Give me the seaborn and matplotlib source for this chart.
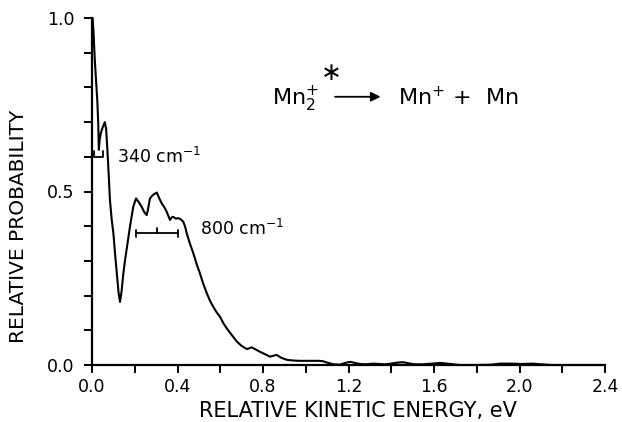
import matplotlib
matplotlib.use("Agg")
import matplotlib.pyplot as plt
import seaborn as sns
import pandas as pd
import numpy as np
from matplotlib.ticker import MultipleLocator

# ---- data ----
energy_ev = [0.003, 0.007, 0.010, 0.013, 0.016, 0.020, 0.025, 0.029, 0.032, 0.036,
             0.042, 0.050, 0.060, 0.066, 0.072, 0.078, 0.084, 0.092, 0.100, 0.108,
             0.116, 0.124, 0.131, 0.138, 0.146, 0.154, 0.166, 0.178, 0.186, 0.193,
             0.206, 0.218, 0.232, 0.245, 0.256, 0.264, 0.271, 0.285, 0.303, 0.315,
             0.326, 0.338, 0.349, 0.357, 0.365, 0.372, 0.380, 0.392, 0.404, 0.415,
             0.427, 0.435, 0.443, 0.458, 0.474, 0.490, 0.505, 0.520, 0.537, 0.552,
             0.567, 0.583, 0.599, 0.615, 0.630, 0.652, 0.677, 0.700, 0.724, 0.735,
             0.747, 0.765, 0.786, 0.810, 0.833, 0.850, 0.864, 0.885, 0.911, 0.940,
             0.973, 1.020, 1.060, 1.080, 1.100, 1.130, 1.160, 1.190, 1.210, 1.230,
             1.254, 1.280, 1.316, 1.340, 1.370, 1.400, 1.430, 1.456, 1.480, 1.510,
             1.550, 1.590, 1.628, 1.660, 1.690, 1.720, 1.800, 1.870, 1.910, 1.960,
             2.010, 2.060, 2.100, 2.150, 2.250, 2.400]
probability = [1.000, 0.960, 0.920, 0.880, 0.850, 0.810, 0.760, 0.700, 0.620, 0.650,
               0.670, 0.685, 0.700, 0.680, 0.620, 0.550, 0.475, 0.420, 0.380, 0.320,
               0.265, 0.210, 0.182, 0.210, 0.260, 0.300, 0.350, 0.400, 0.430, 0.456,
               0.480, 0.470, 0.456, 0.440, 0.432, 0.455, 0.480, 0.490, 0.497, 0.480,
               0.466, 0.455, 0.442, 0.430, 0.418, 0.425, 0.427, 0.422, 0.423, 0.420,
               0.413, 0.400, 0.380, 0.350, 0.322, 0.290, 0.264, 0.235, 0.207, 0.185,
               0.168, 0.152, 0.139, 0.120, 0.106, 0.088, 0.068, 0.055, 0.046, 0.048,
               0.051, 0.045, 0.038, 0.031, 0.024, 0.027, 0.029, 0.021, 0.015, 0.013,
               0.012, 0.012, 0.012, 0.011, 0.007, 0.002, 0.001, 0.007, 0.009, 0.006,
               0.003, 0.002, 0.004, 0.003, 0.002, 0.004, 0.007, 0.008, 0.005, 0.002,
               0.002, 0.004, 0.006, 0.004, 0.002, 0.000, 0.000, 0.001, 0.004, 0.004,
               0.003, 0.004, 0.002, 0.000, 0.000, 0.000]

x_ticks = [0.0, 0.4, 0.8, 1.2, 1.6, 2.0, 2.4]
x_tick_labels = ["0.0", "0.4", "0.8", "1.2", "1.6", "2.0", "2.4"]
y_ticks = [0.0, 0.5, 1.0]
y_tick_labels = ["0.0", "0.5", "1.0"]

# vibrational spacing brackets (eV positions, bracket height)
bracket_340_x = [0.010, 0.052]
bracket_340_y = 0.600
bracket_800_x = [0.206, 0.305, 0.404]
bracket_800_y = 0.380

df = pd.DataFrame({"energy": energy_ev, "prob": probability})

sns.set_style("ticks")
plt.rcParams["font.family"] = ["DejaVu Sans"]
plt.rcParams["mathtext.fontset"] = "dejavusans"
plt.rcParams["text.color"] = "black"
plt.rcParams["axes.labelcolor"] = "black"

fig = plt.figure(figsize=(6.22, 4.22), dpi=100)
ax = fig.add_axes([92 / 622, 57 / 422, 513 / 622, 347 / 422])

sns.lineplot(data=df, x="energy", y="prob", ax=ax, color="black", lw=1.5,
             sort=False, estimator=None)
for l in ax.lines:
    l.set_clip_on(False)

ax.set_xlim(0, 2.4)
ax.set_ylim(0, 1.0)
ax.set_xticks(x_ticks)
ax.set_xticklabels(x_tick_labels)
ax.set_yticks(y_ticks)
ax.set_yticklabels(y_tick_labels)
ax.xaxis.set_minor_locator(MultipleLocator(0.2))
ax.yaxis.set_minor_locator(MultipleLocator(0.1))
ax.tick_params(axis="both", which="both", direction="out", length=5.5, width=1.4,
               color="black", labelsize=12.5, labelcolor="black")
ax.tick_params(axis="x", which="major", pad=4)
ax.tick_params(axis="y", which="major", pad=7)
for s in ["top", "right"]:
    ax.spines[s].set_visible(False)
for s in ["left", "bottom"]:
    ax.spines[s].set_linewidth(1.6)
    ax.spines[s].set_color("black")

ax.set_xlabel("RELATIVE KINETIC ENERGY, eV", fontsize=15, color="black")
ax.xaxis.set_label_coords(0.518, -0.105)
ax.set_ylabel("RELATIVE PROBABILITY", fontsize=14.5, color="black")
ax.yaxis.set_label_coords(-0.125, 0.40)

# 340 cm-1 bracket
bx0, bx1 = bracket_340_x
ax.plot([bx0, bx0, bx1, bx1], [bracket_340_y + 0.018, bracket_340_y, bracket_340_y, bracket_340_y + 0.018],
        color="black", lw=1.3, clip_on=False)
ax.text(0.115, 0.600, "340 cm$^{-1}$", fontsize=12.5, va="center", ha="left", color="black")

# 800 cm-1 bracket
b0, bm, b1 = bracket_800_x
ax.plot([b0, b1], [bracket_800_y, bracket_800_y], color="black", lw=1.3)
for bx in (b0, b1):
    ax.plot([bx, bx], [bracket_800_y - 0.010, bracket_800_y + 0.010], color="black", lw=1.3)
ax.plot([bm, bm], [bracket_800_y, bracket_800_y + 0.016], color="black", lw=1.3)
ax.text(0.505, 0.393, "800 cm$^{-1}$", fontsize=12.5, va="center", ha="left", color="black")

# reaction
ax.text(0.84, 0.749, "Mn$_2^{+}$", fontsize=16, va="baseline", ha="left", color="black")
ax.text(1.113, 0.841, "$\\ast$", fontsize=18, va="center", ha="center", color="black")
ax.annotate("", xy=(1.35, 0.773), xytext=(1.137, 0.773),
            arrowprops=dict(arrowstyle="-|>", color="black", lw=1.3,
                            mutation_scale=14, shrinkA=0, shrinkB=0))
ax.text(1.433, 0.749, "Mn$^{+}$ +  Mn", fontsize=16, va="baseline", ha="left", color="black")

fig.savefig("out.png", dpi=100, facecolor="white")
